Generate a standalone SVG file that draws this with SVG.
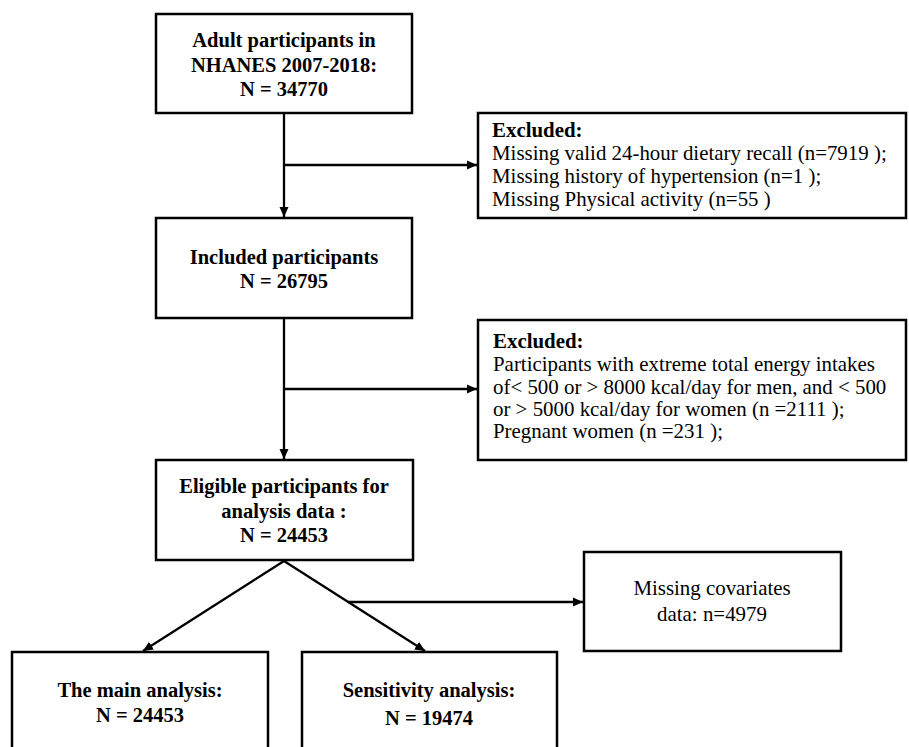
<svg xmlns="http://www.w3.org/2000/svg" width="909" height="747" viewBox="0 0 909 747">
<style>
.box{fill:#fff;stroke:#000;stroke-width:2.5}
.t{font-family:"Liberation Serif","Times New Roman",serif;font-size:20.5px;fill:#000}
.r{font-size:20.9px}
.b{font-weight:bold}
.c{text-anchor:middle}
.ln{fill:none;stroke:#000;stroke-width:2.3}
</style>
<defs>
<marker id="ah" markerUnits="userSpaceOnUse" markerWidth="10" markerHeight="10" refX="10" refY="5" orient="auto">
<path d="M0,0.5 L10,5 L0,9.5 z" fill="#000"/>
</marker>
</defs>
<rect width="909" height="747" fill="#fff"/>
<g id="connectors">
<line class="ln" x1="284" y1="113" x2="284" y2="217" marker-end="url(#ah)"/>
<line class="ln" x1="284" y1="165" x2="477" y2="165" marker-end="url(#ah)"/>
<line class="ln" x1="284" y1="318" x2="284" y2="459" marker-end="url(#ah)"/>
<line class="ln" x1="284" y1="389" x2="477" y2="389" marker-end="url(#ah)"/>
<line class="ln" x1="284" y1="561" x2="143" y2="651" marker-end="url(#ah)"/>
<line class="ln" x1="284" y1="561" x2="425" y2="651" marker-end="url(#ah)"/>
<line class="ln" x1="348" y1="602" x2="583" y2="602" marker-end="url(#ah)"/>
</g>
<g id="n1">
<rect class="box" x="156" y="14" width="256" height="99"/>
<text class="t b c" x="284" y="47">Adult participants in</text>
<text class="t b c" x="284" y="72">NHANES 2007-2018:</text>
<text class="t b c" x="284" y="96">N = 34770</text>
</g>
<g id="ex1">
<rect class="box" x="478" y="113" width="428" height="105"/>
<text class="t r b" x="492" y="137">Excluded:</text>
<text class="t r" x="492" y="160">Missing valid 24-hour dietary recall (n=7919 );</text>
<text class="t r" x="492" y="183">Missing history of hypertension (n=1 );</text>
<text class="t r" x="492" y="206">Missing Physical activity (n=55 )</text>
</g>
<g id="n2">
<rect class="box" x="156" y="218" width="256" height="100"/>
<text class="t b c" x="284" y="264">Included participants</text>
<text class="t b c" x="284" y="288">N = 26795</text>
</g>
<g id="ex2">
<rect class="box" x="478" y="320" width="428" height="140"/>
<text class="t r b" x="493" y="348">Excluded:</text>
<text class="t r" x="493" y="371">Participants with extreme total energy intakes</text>
<text class="t r" x="493" y="394">of&lt; 500 or &gt; 8000 kcal/day for men, and &lt; 500</text>
<text class="t r" x="493" y="416">or &gt; 5000 kcal/day for women (n =2111 );</text>
<text class="t r" x="493" y="438">Pregnant women (n =231 );</text>
</g>
<g id="n3">
<rect class="box" x="156" y="460" width="257" height="100"/>
<text class="t b c" x="284" y="493">Eligible participants for</text>
<text class="t b c" x="284" y="518">analysis data :</text>
<text class="t b c" x="284" y="542">N = 24453</text>
</g>
<g id="n4">
<rect class="box" x="584" y="552" width="257" height="99"/>
<text class="t r c" x="712" y="595">Missing covariates</text>
<text class="t r c" x="712" y="621">data: n=4979</text>
</g>
<g id="n5">
<rect class="box" x="12" y="652" width="256" height="110"/>
<text class="t b c" x="140" y="697">The main analysis:</text>
<text class="t b c" x="140" y="722">N = 24453</text>
</g>
<g id="n6">
<rect class="box" x="302" y="652" width="255" height="110"/>
<text class="t b c" x="429" y="697">Sensitivity analysis:</text>
<text class="t b c" x="429" y="725">N = 19474</text>
</g>
</svg>
